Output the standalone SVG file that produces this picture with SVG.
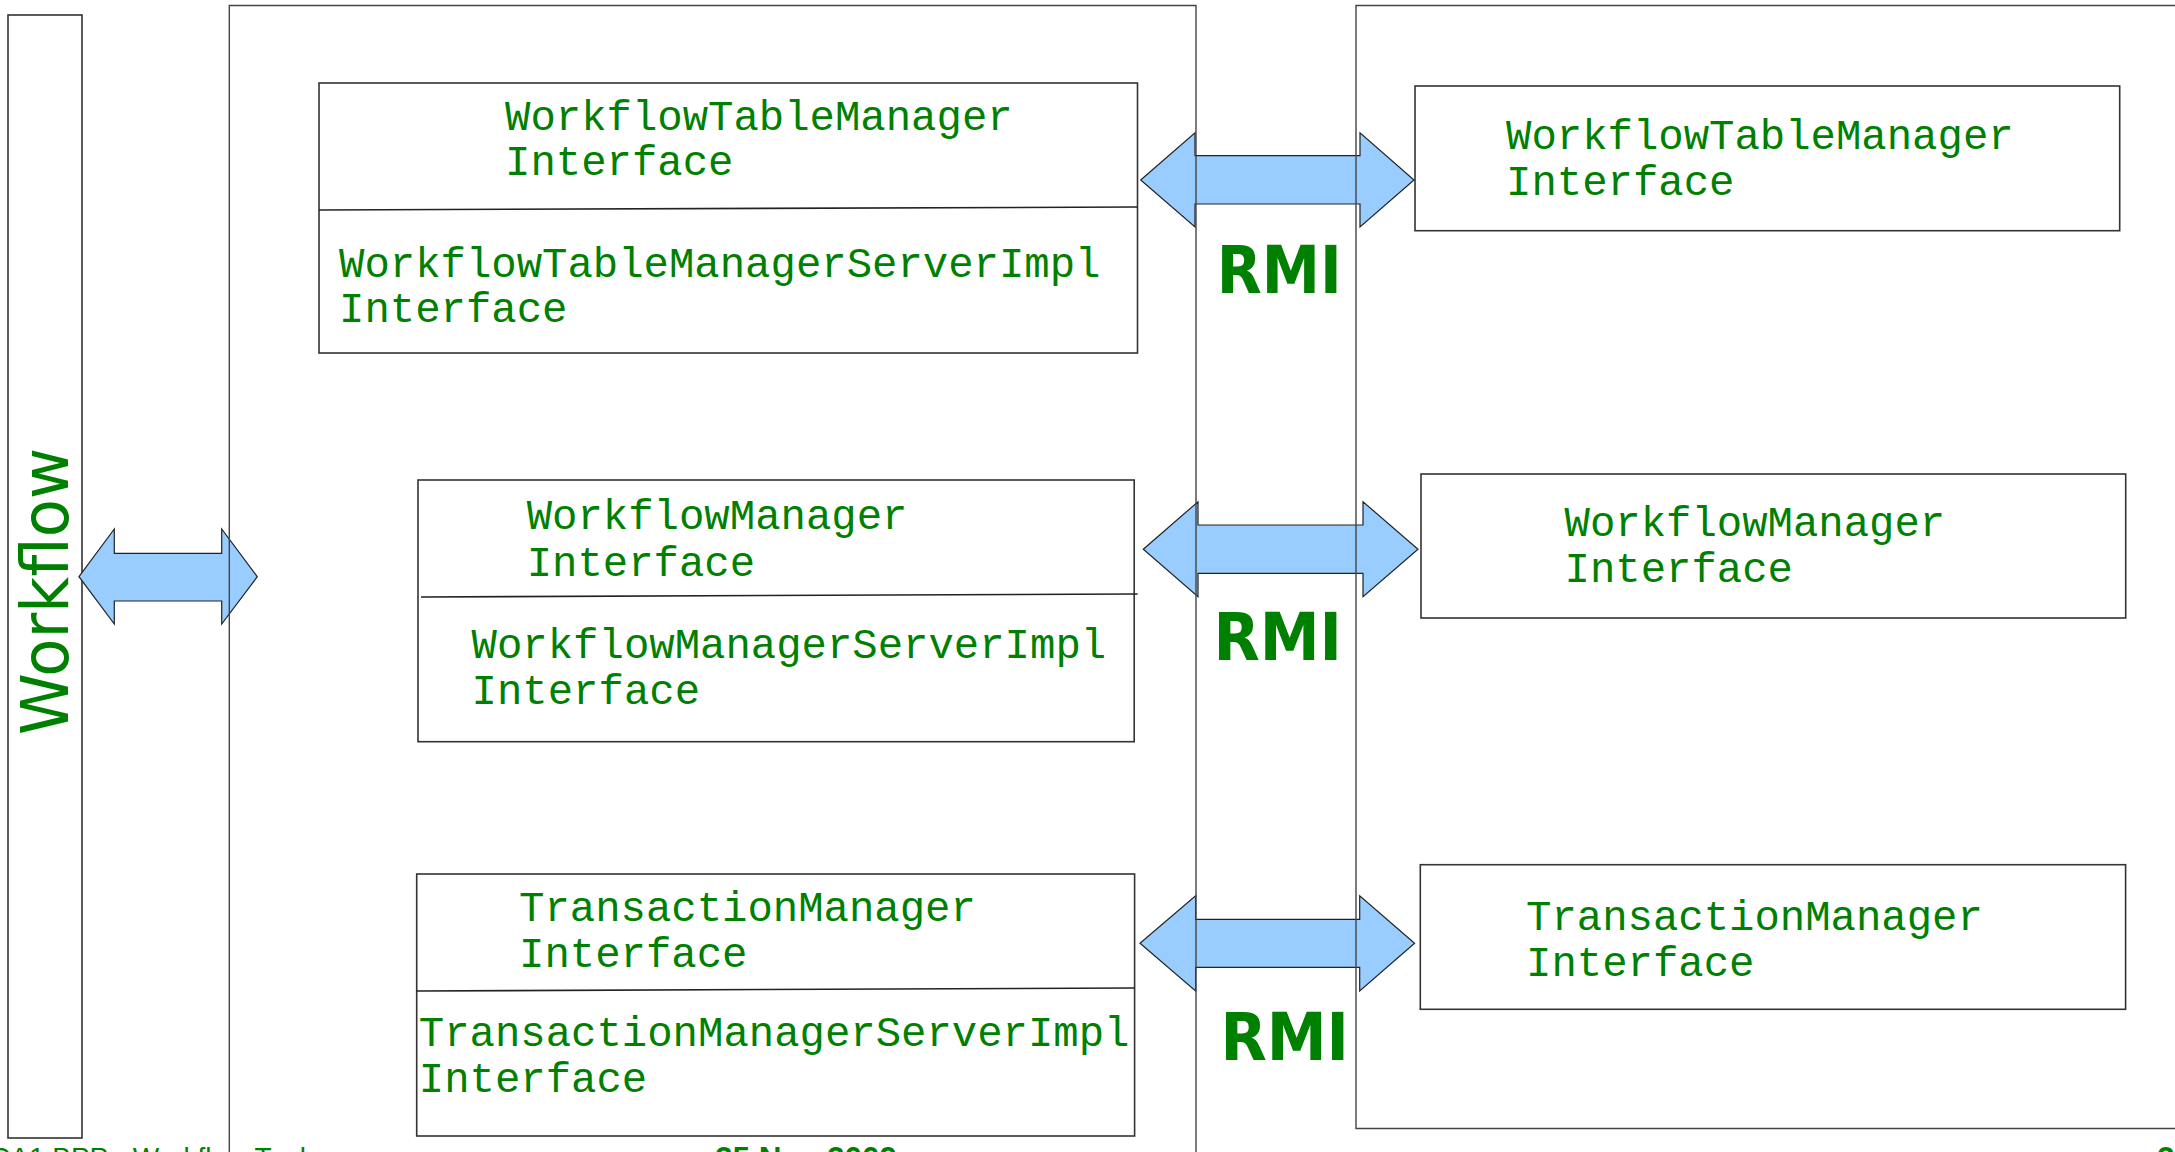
<svg xmlns="http://www.w3.org/2000/svg" width="2175" height="1152" viewBox="0 0 2175 1152">
<defs>
<style>
.box{fill:#fff;stroke:#333;stroke-width:1.6}
.div{fill:none;stroke:#222;stroke-width:1.6}
.panel{fill:none;stroke:#444;stroke-width:1.4}
.arrow{fill:#99ccff;stroke:#222;stroke-width:1.2;stroke-linejoin:miter}
.mono{font-family:"Liberation Mono","DejaVu Sans Mono",monospace;font-size:42.3px;fill:#008000}
.hand{font-family:"DejaVu Sans","Noto Sans",sans-serif;fill:#008000}
.foot{font-family:"Liberation Sans",Arial,sans-serif;fill:#008000}
</style>
</defs>
<rect width="2175" height="1152" fill="#fff"/>

<g id="workflow-node">
<rect class="box" x="8" y="15" width="74" height="1123"/>
<text class="hand" transform="translate(68,735) rotate(-90)" font-size="66" textLength="287" lengthAdjust="spacingAndGlyphs">Workflow</text>
</g>

<g id="node-wtm-server">
<rect class="box" x="319" y="83" width="818.5" height="270"/>
<path class="div" d="M319,210 L1137.5,207"/>
<text class="mono" x="505" y="130">WorkflowTableManager</text>
<text class="mono" x="505" y="175">Interface</text>
<text class="mono" x="339" y="277">WorkflowTableManagerServerImpl</text>
<text class="mono" x="339" y="322">Interface</text>
</g>

<g id="node-wm-server">
<rect class="box" x="418" y="480" width="716.2" height="261.7"/>
<path class="div" d="M421,597 L1137.6,594"/>
<text class="mono" x="526.7" y="529.3">WorkflowManager</text>
<text class="mono" x="526.7" y="575.7">Interface</text>
<text class="mono" x="471.6" y="658.3">WorkflowManagerServerImpl</text>
<text class="mono" x="471.6" y="704.3">Interface</text>
</g>

<g id="node-tm-server">
<rect class="box" x="416.7" y="874" width="717.9" height="262"/>
<path class="div" d="M416.7,991 L1134.6,988"/>
<text class="mono" x="519" y="921">TransactionManager</text>
<text class="mono" x="519" y="966.7">Interface</text>
<text class="mono" x="418.8" y="1046">TransactionManagerServerImpl</text>
<text class="mono" x="418.8" y="1092.3">Interface</text>
</g>

<g id="node-wtm-client">
<rect class="box" x="1415" y="86" width="704.7" height="144.7"/>
<text class="mono" x="1506" y="149.3">WorkflowTableManager</text>
<text class="mono" x="1506" y="195">Interface</text>
</g>

<g id="node-wm-client">
<rect class="box" x="1421" y="474" width="704.7" height="144"/>
<text class="mono" x="1564.5" y="536">WorkflowManager</text>
<text class="mono" x="1564.5" y="581.7">Interface</text>
</g>

<g id="node-tm-client">
<rect class="box" x="1420.3" y="864.7" width="705.3" height="144.6"/>
<text class="mono" x="1526" y="930">TransactionManager</text>
<text class="mono" x="1526" y="976">Interface</text>
</g>

<g id="connectors">
<path class="arrow" d="M79,576.7 L114.3,529 L114.3,553.3 L221.7,553.3 L221.7,529 L257.3,576.7 L221.7,624 L221.7,601 L114.3,601 L114.3,624 Z"/>
<path class="arrow" d="M1140.7,180 L1195,132.7 L1195,155.7 L1360,155.7 L1360,132.7 L1414,180 L1360,227 L1360,204 L1195,204 L1195,227 Z"/>
<path class="arrow" d="M1143.3,549.3 L1198,501.7 L1198,525 L1363,525 L1363,501.7 L1418,549.3 L1363,596.7 L1363,573.3 L1198,573.3 L1198,596.7 Z"/>
<path class="arrow" d="M1140,943.3 L1195.6,895.7 L1195.6,919.3 L1359.7,919.3 L1359.7,895.7 L1414.6,943.3 L1359.7,991 L1359.7,967.3 L1195.6,967.3 L1195.6,991 Z"/>
</g>

<g id="panels">
<path class="panel" d="M229.3,1160 L229.3,5.5 L1196,5.5 L1196,1160"/>
<path class="panel" d="M2185,5.5 L1356,5.5 L1356,1128.5 L2185,1128.5"/>
</g>

<g id="rmi-labels">
<text class="hand" x="1216.7" y="293" font-size="66" font-weight="bold" textLength="125" lengthAdjust="spacingAndGlyphs">RMI</text>
<text class="hand" x="1213.4" y="660" font-size="66" font-weight="bold" textLength="128.6" lengthAdjust="spacingAndGlyphs">RMI</text>
<text class="hand" x="1220.4" y="1060" font-size="66" font-weight="bold" textLength="128.6" lengthAdjust="spacingAndGlyphs">RMI</text>
</g>

<g id="footer">
<text class="foot" x="-10" y="1167" font-size="28">CA1 BPP - Workflow Tool</text>
<text class="foot" x="715" y="1169" font-size="31.5" font-weight="bold">25 Nov 2009</text>
<text class="foot" x="2157" y="1169" font-size="31.5" font-weight="bold">2</text>
</g>
</svg>
